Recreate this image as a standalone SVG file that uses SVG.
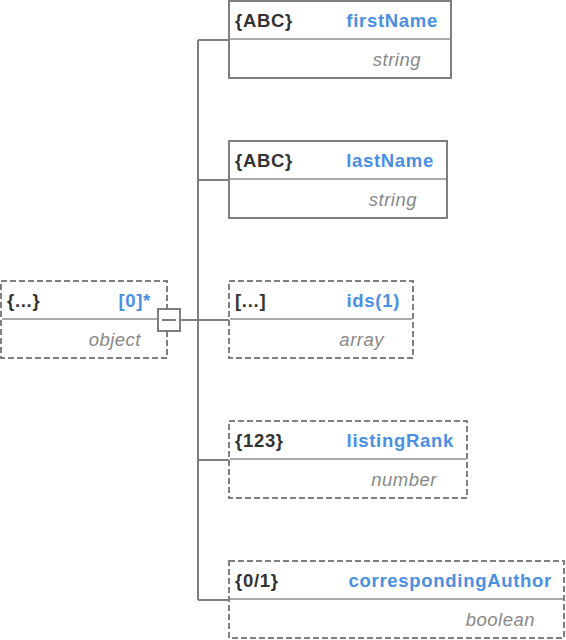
<svg xmlns="http://www.w3.org/2000/svg" width="566" height="640" viewBox="0 0 566 640">
<style>
.box{fill:#fff;stroke:#7f7f7f;stroke-width:2}
.dash{stroke-dasharray:6 3}
.div{stroke:#aaaaaa;stroke-width:2}
.kind{font-family:"Liberation Sans",Arial,sans-serif;font-weight:bold;font-size:18.5px;fill:#333;letter-spacing:0.7px}
.name{font-family:"Liberation Sans",Arial,sans-serif;font-weight:bold;font-size:18.5px;fill:#4a90e2;text-anchor:end;letter-spacing:0.7px}
.type{font-family:"Liberation Sans",Arial,sans-serif;font-style:italic;font-size:18.5px;fill:#888;text-anchor:end;letter-spacing:0.5px}
.conn{stroke:#7f7f7f;stroke-width:2;fill:none}
</style>
<g id="connectors">
<path class="conn" d="M198,40 V600 M198,40 H229 M198,180 H229 M180,320 H229 M198,460 H229 M198,600 H229"/>
</g>
<g id="root">
<rect class="box dash" x="1" y="281" width="166" height="77"/>
<line class="div" x1="2" y1="319" x2="166" y2="319"/>
<text class="kind" x="7" y="307">{...}</text>
<text class="name" x="151" y="307">[0]*</text>
<text class="type" x="141" y="346">object</text>
<rect x="158" y="309" width="22" height="22" fill="#fff" stroke="#7f7f7f" stroke-width="2"/>
<line x1="162" y1="320" x2="176" y2="320" stroke="#7f7f7f" stroke-width="2"/>
</g>
<g id="firstName">
<rect class="box" x="229" y="1" width="222" height="77"/>
<line class="div" x1="230" y1="39" x2="450" y2="39"/>
<text class="kind" x="235" y="27">{ABC}</text>
<text class="name" x="438" y="27">firstName</text>
<text class="type" x="421" y="66">string</text>
</g>
<g id="lastName">
<rect class="box" x="229" y="141" width="218" height="77"/>
<line class="div" x1="230" y1="179" x2="446" y2="179"/>
<text class="kind" x="235" y="167">{ABC}</text>
<text class="name" x="434" y="167">lastName</text>
<text class="type" x="417" y="206">string</text>
</g>
<g id="ids">
<rect class="box dash" x="229" y="281" width="184" height="77"/>
<line class="div" x1="230" y1="319" x2="412" y2="319"/>
<text class="kind" x="235" y="307">[...]</text>
<text class="name" x="400" y="307">ids(1)</text>
<text class="type" x="384" y="346">array</text>
</g>
<g id="listingRank">
<rect class="box dash" x="229" y="421" width="238" height="77"/>
<line class="div" x1="230" y1="459" x2="466" y2="459"/>
<text class="kind" x="235" y="447">{123}</text>
<text class="name" x="454" y="447">listingRank</text>
<text class="type" x="437" y="486">number</text>
</g>
<g id="correspondingAuthor">
<rect class="box dash" x="229" y="561" width="335" height="77"/>
<line class="div" x1="230" y1="599" x2="563" y2="599"/>
<text class="kind" x="235" y="587">{0/1}</text>
<text class="name" x="552" y="587">correspondingAuthor</text>
<text class="type" x="535" y="626">boolean</text>
</g>
</svg>
